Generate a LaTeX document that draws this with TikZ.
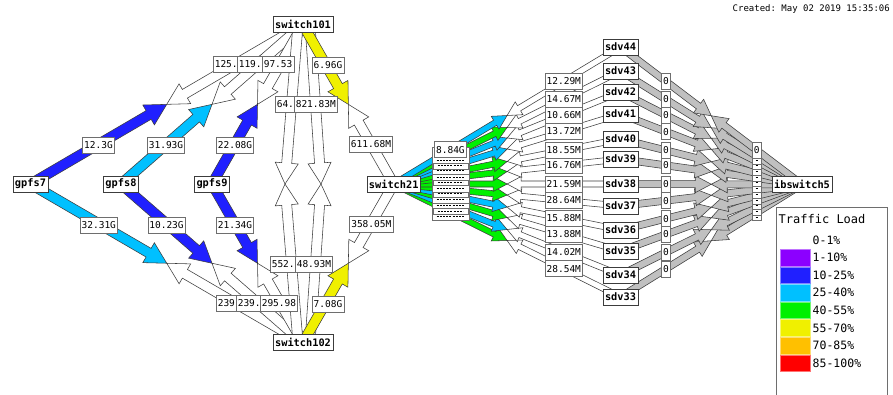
\documentclass[tikz,border=0pt]{standalone}
\usepackage{fontspec}
\setmonofont{DejaVu Sans Mono}
\usetikzlibrary{calc,backgrounds}
\definecolor{load1}{HTML}{8C00FF}
\definecolor{load10}{HTML}{2020FF}
\definecolor{load25}{HTML}{00C0FF}
\definecolor{load40}{HTML}{00F000}
\definecolor{load55}{HTML}{F0F000}
\definecolor{load70}{HTML}{FFC000}
\definecolor{load85}{HTML}{FF0000}
\definecolor{nodata}{HTML}{C0C0C0}
\definecolor{edge}{HTML}{3C3C3C}
\definecolor{frame}{HTML}{6E6E6E}

% one half of a link: a wide arrow from an end to the link midpoint
\newcommand{\linkhalf}[6]{%
  \coordinate (lh-base) at ($(#3)!#6!(#2)$);
  \filldraw[linkedge, fill=#1] ($(#2)!#4!90:(#3)$) -- ($(lh-base)!#4!-90:(#2)$)
    -- ($(lh-base)!#5!-90:(#2)$) -- (#3) -- ($(lh-base)!#5!90:(#2)$)
    -- ($(lh-base)!#4!90:(#2)$) -- ($(#2)!#4!-90:(#3)$) -- cycle;}
\newcommand{\trunkhalf}[3]{\linkhalf{#1}{#2}{#3}{5pt}{11.5pt}{21pt}}
\newcommand{\leafhalf}[3]{\linkhalf{#1}{#2}{#3}{3pt}{7.5pt}{14pt}}
\newcommand{\ibhalf}[3]{\linkhalf{#1}{#2}{#3}{3.5pt}{8.5pt}{16pt}}

\begin{document}
\begin{tikzpicture}[x=1pt, y=-1pt]
  \tikzset{devbox/.style={draw=edge, fill=white, line width=0.6pt, inner xsep=2pt, inner ysep=0pt,
                          minimum height=16pt, font=\fontsize{10.3}{11}\selectfont\ttfamily\bfseries},
           bwlabel/.style={draw=frame, fill=white, line width=0.6pt, inner xsep=1.5pt, inner ysep=0pt,
                          minimum height=16pt, font=\fontsize{9.5}{10}\selectfont\ttfamily},
           linkedge/.style={draw=edge, line width=0.55pt, line join=miter},
           swatch/.style={minimum width=30pt, minimum height=16.5pt, inner sep=0pt, line width=0.6pt},
           legtext/.style={font=\fontsize{11.5}{12}\selectfont\ttfamily, inner sep=0pt}}
  \useasboundingbox (0,0) rectangle (893,394);

  % devices
  \node[devbox] (s101) at (303,24.7) {switch101};
  \node[devbox] (s102) at (303,342.5) {switch102};
  \node[devbox] (gpfs7) at (30.5,184) {gpfs7};
  \node[devbox] (gpfs8) at (121,184) {gpfs8};
  \node[devbox] (gpfs9) at (212,184) {gpfs9};
  \node[devbox] (s21) at (393.7,184) {switch21};
  \node[devbox] (ib5) at (802,184.5) {ibswitch5};
  \foreach \n/\y in {44/47,43/71,42/92,41/114,40/139,39/159,38/184,37/206,36/230,35/251,34/275,33/297}
    \node[devbox] (sdv\n) at (620.5,\y) {sdv\n};

  % link midpoints and offset ends
  \coordinate (m7a) at ($(gpfs7)!0.5!(s101)$);
  \coordinate (m8a) at ($(gpfs8)!0.5!(s101)$);
  \coordinate (m9a) at ($(gpfs9)!0.5!(s101)$);
  \coordinate (m7b) at ($(gpfs7)!0.5!(s102)$);
  \coordinate (m8b) at ($(gpfs8)!0.5!(s102)$);
  \coordinate (m9b) at ($(gpfs9)!0.5!(s102)$);
  \coordinate (m21a) at ($(s101)!0.5!(s21)$);
  \coordinate (m21b) at ($(s102)!0.5!(s21)$);
  \coordinate (s101a) at ($(s101)+(-5,0)$);
  \coordinate (s101b) at ($(s101)+(7,0)$);
  \coordinate (s102a) at ($(s102)+(-5,0)$);
  \coordinate (s102b) at ($(s102)+(7,0)$);
  \coordinate (viaA) at (285,184);
  \coordinate (viaB) at (321,184);

  \begin{scope}[on background layer]
    \fill[white] (0,0) rectangle (893,394);
    \trunkhalf{load10}{gpfs7}{m7a}
    \trunkhalf{white}{s101}{m7a}
    \trunkhalf{load25}{gpfs8}{m8a}
    \trunkhalf{white}{s101}{m8a}
    \trunkhalf{load10}{gpfs9}{m9a}
    \trunkhalf{white}{s101}{m9a}
    \trunkhalf{load25}{gpfs7}{m7b}
    \trunkhalf{white}{s102}{m7b}
    \trunkhalf{load10}{gpfs8}{m8b}
    \trunkhalf{white}{s102}{m8b}
    \trunkhalf{load10}{gpfs9}{m9b}
    \trunkhalf{white}{s102}{m9b}
    \trunkhalf{white}{s101a}{viaA}
    \trunkhalf{white}{s102a}{viaA}
    \trunkhalf{white}{s101b}{viaB}
    \trunkhalf{white}{s102b}{viaB}
    \trunkhalf{load55}{s101}{m21a}
    \trunkhalf{white}{s21}{m21a}
    \trunkhalf{load55}{s102}{m21b}
    \trunkhalf{white}{s21}{m21b}
    \foreach \n/\col in {33/load40,34/load25,35/load40,36/load25,37/load40,38/load40,
                         39/load40,40/load40,41/load25,42/load25,43/load40,44/load25} {
      \coordinate (ms\n) at ($(s21)!0.5!(sdv\n)$);
      \coordinate (mi\n) at ($(sdv\n)!0.5!(ib5)$);
      \leafhalf{\col}{s21}{ms\n}
      \leafhalf{white}{sdv\n}{ms\n}
      \ibhalf{nodata}{sdv\n}{mi\n}
      \ibhalf{nodata}{ib5}{mi\n}
    }
  \end{scope}

  % bandwidth labels
  \node[bwlabel] (t7a) at (98.5,145) {12.3G};
  \node[bwlabel] (t8a) at (166,145) {31.93G};
  \node[bwlabel] (t9a) at (235,145) {22.08G};
  \node[bwlabel] (t7b) at (98.8,224.8) {32.31G};
  \node[bwlabel] (t8b) at (166.5,224.8) {10.23G};
  \node[bwlabel] (t9b) at (235,224.8) {21.34G};
  \node[bwlabel] (t21a) at (371,144) {611.68M};
  \node[bwlabel] (t21b) at (371.3,224) {358.05M};
  \node[bwlabel] (y21a) at (328,65) {6.96G};
  \node[bwlabel] (y21b) at (328,304) {7.08G};
  \node[bwlabel, anchor=west] (r7a) at (213,64.5) {125.};
  \node[bwlabel, anchor=west] (r8a) at (237,64.5) {119.};
  \node[bwlabel, anchor=west] (r9a) at (262,64.5) {97.53};
  \node[bwlabel, anchor=west] (r7b) at (216,303.5) {239};
  \node[bwlabel, anchor=west] (r8b) at (236,303.5) {239.};
  \node[bwlabel, anchor=west] (r9b) at (260,303.5) {295.98};
  \node[bwlabel, anchor=west] (pa) at (275,104) {64.};
  \node[bwlabel, anchor=west] (pb) at (294,104) {821.83M};
  \node[bwlabel, anchor=west] (qa) at (270,263.8) {552.};
  \node[bwlabel, anchor=west] (qb) at (295,263.8) {48.93M};

  \foreach \n/\lab in {33/28.54M,34/14.02M,35/13.88M,36/15.88M,37/28.64M,38/21.59M,
                       39/16.76M,40/18.55M,41/13.72M,42/10.66M,43/14.67M,44/12.29M} {
    \node[bwlabel] (li\n) at ($(s21)!0.75!(sdv\n)$) {\lab};
    \node[bwlabel] (z\n) at ($(sdv\n)!0.25!(ib5)$) {0};
  }
  % stacked labels, only the top one readable
  \foreach \n/\w in {33/37pt,34/35pt,35/37pt,36/37pt,37/35pt,38/37pt,39/35pt,40/37pt,41/37pt,42/35pt,43/37pt} {
    \node[bwlabel, minimum width=\w] (o\n) at ($(s21)!0.25!(sdv\n)$) {};
    \draw[dash pattern=on 2pt off 1.2pt, line width=0.8pt] ($(o\n.south west)+(5,-4)$) -- ($(o\n.south east)+(-5,-4)$);
    \node[bwlabel, minimum width=9pt] (zz\n) at ($(sdv\n)!0.75!(ib5)$) {};
    \draw[line width=0.8pt] ($(zz\n.south)+(-1,-4)$) -- ($(zz\n.south)+(1,-4)$);
  }
  \node[bwlabel] (o44) at ($(s21)!0.25!(sdv44)$) {8.84G};
  \node[bwlabel] (zz44) at ($(sdv44)!0.75!(ib5)$) {0};

  % legend
  \node[draw=frame, fill=white, line width=0.6pt, minimum width=111pt, minimum height=188pt,
        anchor=north west, inner sep=0pt] (legend) at (776,207) {};
  \node[anchor=west, font=\fontsize{12}{13}\selectfont\ttfamily, inner sep=0pt] (legtitle) at (778.5,219) {Traffic Load};
  \node[anchor=west, legtext] (leg0) at (812.5,240) {0-1\%};
  \foreach \c/\t [count=\i] in {load1/1-10\%,load10/10-25\%,load25/25-40\%,load40/40-55\%,
                                load55/55-70\%,load70/70-85\%,load85/85-100\%} {
    \node[swatch, fill=\c, draw=\c!55!white] (sw\i) at (795.5,240+17.6*\i) {};
    \node[anchor=west, legtext] (leg\i) at (812.5,240+17.6*\i) {\t};
  }
  \node[anchor=east, font=\fontsize{9}{10}\selectfont\ttfamily, inner sep=0pt] (stamp) at (890,9) {Created: May 02 2019 15:35:06};
\end{tikzpicture}
\end{document}
